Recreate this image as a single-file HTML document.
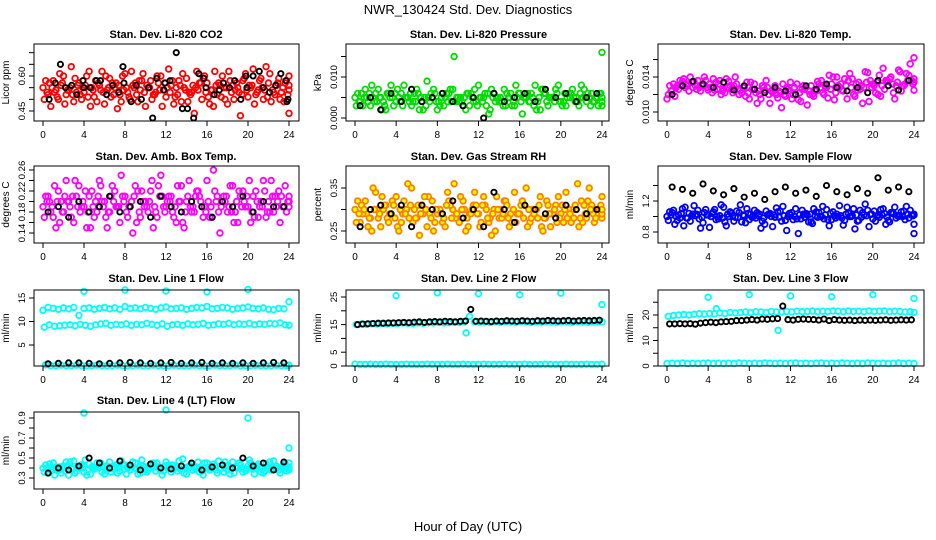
<!DOCTYPE html>
<html><head><meta charset="utf-8">
<style>
html,body{margin:0;padding:0;background:#fff;}
svg{display:block;font-family:"Liberation Sans",Arial,sans-serif;}
</style></head>
<body>
<svg id="chart" width="936" height="540" viewBox="0 0 936 540" xmlns="http://www.w3.org/2000/svg">
<rect width="936" height="540" fill="#fff"/>
<text x="468" y="14" font-size="13" text-anchor="middle">NWR_130424  Std. Dev. Diagnostics</text>
<text x="468" y="531" font-size="13" text-anchor="middle">Hour of Day (UTC)</text>
</svg>
<script>
// ---- data ----
const xTickLabels = [0,4,8,12,16,20,24];
// P1 CO2
const co2A=[.55,.52,.58,.50,.60,.54,.49,.57,.53,.62,.51,.56,.48,.59,.55,.52,.61,.50,.57,.54,.47,.58,.53,.60,.51,.56,.55,.49,.59,.53,.62,.50,.57,.54,.52,.60,.48,.56,.55,.58,.51,.63,.54,.50,.57,.53,.59,.49,.56];
const co2B=[.50,.57,.53,.61,.48,.55,.59,.52,.56,.47,.58,.54,.60,.51,.57,.49,.55,.62,.52,.58,.56,.50,.60,.47,.55,.58,.52,.61,.49,.56,.54,.59,.51,.47,.57,.55,.62,.50,.53,.59,.56,.48,.58,.54,.61,.52,.50,.57,.60];
const co2C=[.58,.47,.54,.56,.52,.64,.53,.50,.60,.55,.49,.62,.54,.57,.46,.60,.53,.56,.49,.61,.55,.52,.57,.54,.63,.48,.58,.55,.53,.44,.57,.60,.48,.62,.56,.50,.58,.54,.43,.61,.55,.52,.59,.64,.49,.56,.53,.58,.44];
const co2D=[.53,.55,.51,.57,.54,.52,.56,.55,.51,.54,.57,.53,.55,.52,.56,.54,.51,.55,.58,.53,.55,.52,.54,.57,.53,.51,.56,.54,.52,.55,.57,.53,.54,.56,.51,.55,.53,.57,.52,.54,.56,.53,.55,.51,.54,.57,.55,.52,.54];
const co2BlackHour=[0.6,1.2,1.7,2.2,2.8,3.3,3.9,4.0,4.6,5.2,5.6,6.2,6.8,7.4,7.8,7.9,8.6,9.1,9.6,10.3,10.7,11.1,11.8,11.9,12.4,13.0,13.6,14.1,14.7,15.2,15.7,15.9,16.7,17.2,17.6,18.2,18.7,19.3,19.8,19.9,20.5,21.1,21.5,22.1,22.7,23.2,23.7,23.8,23.9];
const co2Black=[.50,.57,.65,.55,.56,.52,.58,.55,.55,.58,.58,.52,.56,.53,.64,.57,.49,.56,.50,.55,.42,.59,.54,.57,.58,.70,.46,.46,.42,.61,.59,.55,.52,.54,.57,.55,.58,.50,.60,.55,.60,.62,.55,.53,.56,.61,.58,.49,.50];
// P2 pressure (x1e-3 kPa)
const presA=[5,4,7,3,6,5,2,8,4,6,5,3,7,4,9,5,2,6,4,7,5,3,6,4,8,5,1,6,4,7,5,3,6,5,4,8,2,6,5,7,4,3,6,5,8,4,6,5,3];
const presB=[3,6,5,8,4,2,6,5,7,3,5,4,6,2,5,7,4,3,6,15,4,5,3,7,5,6,2,4,5,3,6,8,4,5,6,2,7,4,5,6,3,5,7,4,5,6,4,3,16];
const presC=[6,3,4,5,7,4,6,3,5,8,4,6,2,5,4,6,3,5,7,4,5,2,6,4,5,3,7,5,4,6,3,5,1,6,5,4,7,3,5,8,4,6,5,3,7,5,4,6,5];
const presD=[4,5,6,4,5,3,5,6,4,5,6,4,5,3,6,4,5,6,4,5,4,6,5,3,4,6,5,5,3,5,4,6,5,4,3,5,6,5,4,4,6,5,4,6,5,3,5,6,4];
const presBlack=[3,5,2,6,4,7,4,5,6,4,3,5,0,6,4,5,6,4,7,5,6,4,5,6];
// P3 Li-820 temp (x1e-3)
const tempA=[11.5,12.5,13.0,13.5,13.2,12.8,13.6,13.0,12.5,13.8,13.2,12.6,13.5,13.0,12.0,12.8,11.5,13.2,12.0,12.5,11.0,13.0,12.2,11.8,13.4,12.0,11.2,12.8,13.0,12.4,13.6,12.8,13.2,14.0,12.5,11.5,13.8,12.5,11.0,14.5,13.2,12.0,15.0,13.5,12.2,14.8,13.0,14.2,12.5];
const tempB=[12.0,13.2,12.6,13.8,12.4,13.5,12.8,14.0,13.2,12.5,13.6,12.2,13.0,14.0,12.5,11.8,13.4,12.2,11.5,13.6,12.4,12.0,10.5,12.8,11.5,13.2,12.6,10.8,12.0,13.5,12.2,11.6,14.0,13.0,12.4,13.6,12.0,13.4,12.8,11.2,13.0,14.2,12.6,13.8,11.5,14.6,13.2,15.5,13.8];
const tempC=[13.0,11.8,13.6,12.8,14.0,13.0,12.4,13.6,12.8,13.4,12.0,13.8,12.6,13.2,12.2,13.4,12.6,11.0,13.0,12.8,12.2,11.6,13.2,12.6,12.0,11.4,13.0,12.4,11.8,13.2,12.0,14.2,11.4,12.8,13.8,14.4,11.8,12.6,14.6,13.6,12.2,11.8,13.6,14.0,13.0,12.4,14.4,13.6,16.2];
const tempD=[12.4,12.8,13.2,13.0,13.4,12.6,13.0,12.8,12.2,12.6,12.4,12.8,12.2,12.6,12.8,12.2,12.6,12.4,12.8,12.0,12.6,12.4,12.0,12.4,12.8,12.2,12.6,12.0,12.4,12.8,13.0,12.6,12.2,13.2,13.0,12.8,13.2,13.0,13.4,12.8,13.4,13.0,13.6,13.2,13.4,13.0,13.6,13.2,13.4];
const tempBlack=[12.0,13.0,13.5,13.2,12.8,13.4,12.5,13.0,12.6,12.2,12.8,12.4,12.0,13.0,12.6,13.2,12.8,12.4,12.8,12.2,13.6,13.0,12.5,13.6];
// P4 amb box temp
const boxA=[.19,.21,.17,.22,.18,.20,.16,.23,.19,.21,.17,.24,.20,.18,.22,.16,.21,.19,.23,.17,.20,.22,.18,.25,.19,.21,.16,.23,.20,.18,.22,.19,.24,.17,.21,.20,.18,.23,.16,.22,.19,.21,.17,.24,.20,.18,.22,.19,.21];
const boxB=[.17,.20,.23,.16,.21,.19,.24,.18,.22,.15,.20,.23,.17,.21,.19,.25,.18,.20,.16,.22,.19,.24,.17,.21,.20,.18,.23,.16,.21,.19,.22,.17,.20,.26,.18,.21,.19,.16,.22,.20,.24,.17,.19,.22,.18,.21,.16,.23,.20];
const boxC=[.21,.18,.15,.20,.24,.17,.21,.19,.15,.22,.18,.20,.15,.23,.19,.21,.17,.14,.22,.20,.18,.15,.23,.19,.21,.17,.20,.15,.24,.18,.21,.19,.17,.22,.14,.20,.23,.18,.21,.19,.16,.22,.20,.17,.24,.19,.21,.18,.20];
const boxD=[.20,.19,.20,.18,.20,.21,.19,.20,.18,.19,.21,.19,.18,.20,.19,.20,.19,.21,.18,.19,.20,.19,.21,.18,.20,.19,.20,.18,.19,.21,.20,.18,.19,.20,.19,.21,.18,.20,.19,.21,.18,.20,.19,.18,.21,.20,.19,.20,.19];
const boxBlack=[.18,.19,.17,.20,.18,.19,.21,.18,.19,.20,.17,.21,.19,.18,.20,.19,.17,.20,.19,.21,.18,.20,.19,.19];
// P5 RH
const rhA=[.30,.27,.32,.28,.34,.26,.31,.29,.33,.27,.30,.35,.28,.31,.26,.32,.29,.27,.34,.30,.28,.32,.26,.31,.29,.33,.27,.30,.28,.32,.26,.34,.29,.31,.27,.30,.33,.28,.26,.31,.29,.34,.27,.30,.32,.28,.31,.29,.33];
const rhB=[.27,.31,.29,.25,.30,.33,.28,.32,.26,.29,.36,.27,.31,.29,.33,.25,.30,.28,.32,.36,.27,.30,.29,.34,.26,.31,.28,.25,.30,.32,.29,.27,.31,.35,.28,.30,.26,.32,.29,.27,.31,.28,.30,.36,.27,.32,.29,.30,.28];
const rhC=[.32,.29,.26,.35,.28,.30,.27,.31,.25,.32,.28,.30,.24,.33,.29,.27,.30,.26,.31,.28,.33,.25,.29,.31,.27,.30,.24,.33,.28,.31,.27,.29,.32,.26,.30,.28,.25,.31,.29,.33,.27,.30,.28,.26,.31,.35,.27,.30,.29];
const rhD=[.29,.30,.28,.30,.29,.31,.29,.28,.30,.29,.31,.28,.29,.30,.28,.30,.29,.31,.28,.29,.30,.28,.30,.29,.31,.28,.29,.30,.29,.28,.30,.29,.28,.30,.29,.31,.28,.29,.30,.28,.30,.29,.31,.28,.29,.30,.28,.31,.30];
const rhBlack=[.26,.30,.31,.29,.31,.26,.31,.30,.29,.32,.28,.30,.26,.34,.30,.27,.31,.30,.29,.28,.31,.30,.29,.30];
// P6 sample flow
const sfA=[1.00,1.05,0.95,1.10,0.98,1.03,1.08,0.92,1.02,1.06,0.97,1.12,1.00,0.94,1.05,1.01,0.96,1.08,1.03,0.90,1.04,0.99,1.07,0.95,1.02,1.10,0.97,1.04,0.93,1.06,1.00,1.09,0.96,1.03,0.98,1.12,1.01,0.94,1.05,1.08,0.97,1.02,1.10,0.95,1.04,1.00,1.07,0.98,1.03];
const sfB=[0.95,1.08,1.02,0.88,1.04,1.14,0.97,1.05,0.86,1.09,1.01,0.93,1.06,0.99,1.15,0.92,1.03,0.98,0.85,1.07,1.00,1.11,0.94,0.82,1.05,0.97,1.08,1.02,0.91,0.99,1.13,0.96,1.06,1.00,0.89,1.04,1.10,0.95,1.02,0.87,1.07,0.99,1.04,0.93,1.12,1.01,0.96,1.08,0.90];
const sfC=[1.06,0.90,0.98,1.12,0.94,1.01,0.85,1.09,1.00,0.96,1.15,0.88,1.04,1.07,0.93,1.10,0.99,1.05,0.94,1.02,0.87,1.06,1.13,1.00,0.96,0.78,1.03,0.93,1.10,1.05,0.97,0.88,1.01,1.14,0.95,1.00,0.84,1.08,1.16,1.03,0.94,1.09,0.90,1.05,0.98,1.06,1.13,1.02,0.78];
const sfD=[1.02,1.00,1.04,0.98,1.01,1.03,0.99,1.02,1.04,1.00,0.98,1.03,1.01,0.99,1.02,1.04,1.00,1.01,0.98,1.03,1.02,0.99,1.01,1.04,1.00,1.02,0.99,1.03,1.01,1.00,1.02,1.04,0.98,1.01,1.03,1.00,1.02,0.99,1.01,1.03,1.00,1.02,0.99,1.04,1.01,1.00,1.03,1.01,1.02];
const sfBlack=[1.38,1.35,1.30,1.42,1.33,1.28,1.36,1.25,1.30,1.22,1.32,1.38,1.30,1.34,1.26,1.40,1.32,1.28,1.36,1.30,1.50,1.34,1.38,1.32];
// P7 line 1
const l1Upper=[12.4,13.0,12.8,12.6,12.9,12.7,13.0,11.3,12.8,12.9,12.6,12.8,13.0,12.7,12.9,12.6,13.2,12.8,12.9,12.7,13.0,12.8,12.6,12.9,13.1,12.7,12.8,12.9,12.6,12.8,13.0,12.9,13.2,12.7,12.8,13.0,12.9,12.6,12.8,12.9,13.1,12.8,12.7,12.9,12.6,12.5,12.8,12.7,14.2];
const l1Lower=[8.8,9.3,9.0,9.1,9.2,9.3,9.1,9.4,9.2,9.0,9.3,9.5,9.6,9.2,9.4,9.3,9.5,9.2,9.4,9.3,9.6,9.4,9.2,9.5,9.0,9.3,9.4,9.2,9.5,9.3,9.4,9.6,9.2,9.3,9.5,9.4,9.6,9.3,9.5,9.4,9.6,9.3,9.5,9.4,9.6,9.5,9.7,9.3,9.2];
const l1Base=[0.8,0.6,0.6,0.7,0.6,0.6,0.7,0.6,0.6,0.6,0.7,0.6,0.6,0.6,0.7,0.6,0.6,0.6,0.7,0.6,0.6,0.7,0.6,0.6,0.6,0.7,0.6,0.6,0.6,0.7,0.6,0.6,0.6,0.7,0.6,0.6,0.6,0.7,0.6,0.6,0.6,0.7,0.6,0.6,0.6,0.7,0.6,0.6,0.7];
const l1Black=[1.0,1.1,1.2,1.2,1.1,1.0,1.1,1.2,1.3,1.2,1.1,1.2,1.3,1.1,1.2,1.3,1.1,1.2,1.1,1.2,1.1,1.2,1.3,1.2];
const l1SpikeHour=[4,8,12,16,20];
const l1Spike=[16.4,16.7,16.5,16.3,16.8];
// P8 line 2
const l2Band=[15.0,15.2,15.1,15.3,15.2,15.4,15.3,15.5,15.4,15.6,15.5,15.4,15.6,15.5,15.7,15.6,15.8,15.6,15.7,15.9,15.8,16.0,18.0,16.0,15.9,16.0,15.8,16.0,15.9,16.1,16.0,15.9,16.1,16.0,15.8,16.0,15.9,16.1,16.0,15.9,16.1,16.0,15.9,16.1,16.0,15.9,16.0,16.1,16.0];
const l2Black=[15.0,15.2,15.3,15.4,15.5,15.5,15.6,15.6,15.7,15.8,15.7,15.9,16.0,15.8,16.0,16.1,16.0,16.2,16.1,16.0,16.2,16.3,20.5,16.2,16.3,16.2,16.1,16.3,16.2,16.4,16.3,16.2,16.4,16.3,16.2,16.4,16.3,16.5,16.4,16.3,16.4,16.5,16.3,16.4,16.5,16.4,16.5,16.6];
const l2Base=l1Base.map(v=>v*0.9);
const l2SpikeHour=[4,8,10.8,12,16,20,24];
const l2Spike=[25.5,26.5,12.0,26.2,25.8,26.4,22.3];
// P9 line 3
const l3Upper=[19.5,19.8,20.0,20.2,20.0,20.3,20.5,20.4,20.6,20.5,20.8,20.6,21.0,20.8,21.0,21.2,21.0,21.3,21.2,21.0,21.4,21.2,21.2,21.4,21.2,21.5,21.3,21.4,21.6,21.3,21.5,21.4,21.6,21.5,21.3,21.6,21.4,21.5,21.3,21.6,21.4,21.5,21.6,21.3,21.5,21.4,21.2,21.3,21.0];
const l3Black=[16.5,16.5,16.6,16.5,16.6,16.4,16.8,17.0,17.2,17.0,17.3,17.4,17.5,17.8,17.8,18.0,18.2,18.0,18.4,18.3,18.5,18.6,23.5,18.2,18.0,18.3,18.4,18.3,18.2,18.0,18.4,17.8,18.2,18.0,17.9,18.0,17.8,18.0,17.9,18.0,17.9,18.0,18.1,17.9,18.0,18.1,18.0,18.1];
const l3Base=[1.0,1.1,1.0,1.2,1.0,1.1,1.0,1.1,1.2,1.0,1.1,1.0,1.1,1.0,1.2,1.1,1.0,1.1,1.0,1.2,1.1,1.0,1.1,1.0,1.1,1.2,1.0,1.1,1.0,1.1,1.2,1.0,1.1,1.0,1.2,1.1,1.0,1.1,1.0,1.2,1.1,1.0,1.1,1.0,1.1,1.2,1.0,1.1,1.0];
const l3SpikeHour=[4,4.8,8,10.8,12,16,20,24];
const l3Spike=[27.0,22.5,28.0,14.0,27.5,27.2,28.0,26.5];
// P10 line 4
const l4A=[.40,.35,.45,.38,.42,.33,.47,.40,.36,.44,.39,.42,.34,.46,.41,.37,.43,.38,.45,.35,.41,.44,.37,.40,.46,.36,.42,.39,.34,.44,.40,.37,.45,.41,.35,.43,.38,.46,.40,.36,.42,.39,.44,.35,.41,.47,.38,.43,.40];
const l4B=[.36,.44,.33,.41,.37,.46,.35,.42,.48,.34,.40,.45,.38,.36,.43,.47,.34,.41,.39,.48,.36,.42,.45,.33,.40,.43,.37,.49,.41,.38,.46,.33,.40,.44,.47,.36,.42,.35,.45,.39,.48,.34,.41,.37,.46,.40,.35,.44,.38];
const l4C=[.43,.38,.41,.35,.46,.40,.37,.43,.33,.41,.45,.36,.42,.39,.35,.44,.40,.46,.34,.42,.38,.45,.41,.37,.43,.39,.47,.35,.42,.40,.36,.45,.38,.42,.39,.46,.34,.41,.43,.37,.45,.40,.36,.44,.38,.42,.40,.37,.45];
const l4D=[.40,.41,.39,.40,.42,.39,.41,.40,.38,.41,.40,.42,.39,.40,.41,.39,.42,.40,.41,.38,.40,.41,.39,.42,.40,.41,.39,.40,.42,.41,.39,.40,.41,.38,.40,.42,.39,.41,.40,.39,.41,.42,.40,.39,.41,.40,.42,.39,.41];
const l4Black=[.35,.40,.38,.42,.50,.45,.40,.47,.43,.38,.44,.40,.39,.42,.45,.38,.41,.43,.40,.50,.42,.45,.38,.46];
const l4SpikeHour=[4,12,20,24];
const l4Spike=[.95,.98,.90,.60];

// ---- layout ----
const colAxisX=[34,346,658], colRight=[299,609,924], colX0=[43,355,667], colX24=[289,602,914];
const rowTop=[44,166,290,412], rowBottom=[121,243,366,489], rowTitle=[38,160,282,404];
const svg=document.getElementById('chart');
const NS='http://www.w3.org/2000/svg';
function mk(tag,attrs,parent){const e=document.createElementNS(NS,tag);for(const k in attrs)e.setAttribute(k,attrs[k]);(parent||svg).appendChild(e);return e;}

const RED='#ff0000',GRN='#00dd00',MAG='#ff00ff',ORG='#ff8000',BLU='#0000ff',CYN='#00ffff';
const panels=[
 {name:'co2',title:'Stan. Dev. Li-820 CO2',ylab:'Licor ppm',col:0,row:0,scale:1,v0:.45,p0:111,v1:.60,p1:76,ticks:[.45,.50,.55,.60,.65,.70],labels:['0.45','0.60'],
  series:[[co2A,RED],[co2B,RED],[co2C,RED],[co2D,RED]],black:[[co2BlackHour,co2Black]]},
 {name:'pressure',title:'Stan. Dev. Li-820 Pressure',ylab:'kPa',col:1,row:0,scale:1e-3,v0:0,p0:118,v1:.010,p1:77,ticks:[0,.005,.010,.015],labels:['0.000','0.010'],
  series:[[presA,GRN],[presB,GRN],[presC,GRN],[presD,GRN]],black:[[null,presBlack]]},
 {name:'li820-temp',title:'Stan. Dev. Li-820 Temp.',ylab:'degrees C',col:2,row:0,scale:1e-3,v0:.010,p0:112,v1:.014,p1:77,ticks:[.010,.012,.014,.016],labels:['0.010','0.014'],
  series:[[tempA,MAG],[tempB,MAG],[tempC,MAG],[tempD,MAG]],black:[[null,tempBlack]]},
 {name:'box-temp',title:'Stan. Dev. Amb. Box Temp.',ylab:'degrees C',col:0,row:1,scale:1,v0:.14,p0:233,v1:.26,p1:170,ticks:[.14,.16,.18,.20,.22,.24,.26],labels:['0.14','0.18','0.22','0.26'],
  series:[[boxA,MAG],[boxB,MAG],[boxC,MAG],[boxD,MAG]],black:[[null,boxBlack]]},
 {name:'rh',title:'Stan. Dev. Gas Stream RH',ylab:'percent',col:1,row:1,scale:1,v0:.25,p0:231,v1:.35,p1:188,ticks:[.25,.30,.35],labels:['0.25','0.35'],
  series:[[rhA,ORG,'#ffff00'],[rhB,ORG,'#ffff00'],[rhC,ORG,'#ffff00'],[rhD,ORG,'#ffff00']],black:[[null,rhBlack]]},
 {name:'sample-flow',title:'Stan. Dev. Sample Flow',ylab:'ml/min',col:2,row:1,scale:1,v0:.8,p0:232,v1:1.2,p1:201,ticks:[.8,1.0,1.2,1.4],labels:['0.8','1.2'],
  series:[[sfA,BLU],[sfB,BLU],[sfC,BLU],[sfD,BLU]],black:[[null,sfBlack]]},
 {name:'line1-flow',title:'Stan. Dev. Line 1 Flow',ylab:'ml/min',col:0,row:2,scale:1,v0:5,p0:345,v1:15,p1:298,ticks:[5,10,15],labels:['5','10','15'],
  series:[[l1Upper,CYN],[l1Lower,CYN],[l1Base,CYN],[l1Spike,CYN,null,l1SpikeHour]],black:[[null,l1Black]]},
 {name:'line2-flow',title:'Stan. Dev. Line 2 Flow',ylab:'ml/min',col:1,row:2,scale:1,v0:0,p0:366,v1:25,p1:297,ticks:[0,5,10,15,20,25],labels:['0','5','15','25'],
  series:[[l2Base,CYN],[l2Band,CYN],[l2Spike,CYN,null,l2SpikeHour]],black:[[null,l2Black]]},
 {name:'line3-flow',title:'Stan. Dev. Line 3 Flow',ylab:'ml/min',col:2,row:2,scale:1,v0:0,p0:366,v1:20,p1:315,ticks:[0,5,10,15,20,25],labels:['0','10','20'],
  series:[[l3Base,CYN],[l3Upper,CYN],[l3Spike,CYN,null,l3SpikeHour]],black:[[null,l3Black]]},
 {name:'line4-flow',title:'Stan. Dev. Line 4 (LT) Flow',ylab:'ml/min',col:0,row:3,scale:1,v0:.3,p0:478,v1:.9,p1:418,ticks:[.3,.4,.5,.6,.7,.8,.9],labels:['0.3','0.5','0.7','0.9'],
  series:[[l4A,CYN],[l4B,CYN],[l4C,CYN],[l4D,CYN],[l4Spike,CYN,null,l4SpikeHour]],black:[[null,l4Black]]}
];

panels.forEach(p=>{
  const g=mk('g',{});
  
  
  const ax=colAxisX[p.col], x0=colX0[p.col], x24=colX24[p.col], yb=rowBottom[p.row], yt=rowTop[p.row];
  const X=h=>x0+(x24-x0)*h/24;
  const Y=v=>p.p0+(p.p1-p.p0)*(v-p.v0)/(p.v1-p.v0);
  const t=mk('text',{x:X(12),y:rowTitle[p.row],'font-size':11,'font-weight':'bold','text-anchor':'middle'},g);
  t.textContent=p.title;
  
  
  // colored series
  p.series.forEach((s,k)=>{
    const vals=s[0], col=s[1], fill=s[2]||'none', hrs=s[3];
    const sg=mk('g',{stroke:col,fill:fill,'stroke-width':1.8},g);
    
    
    vals.forEach((v,i)=>{
      let h;
      if(Array.isArray(hrs)) h=hrs[i];
      else h=Math.min(24,i*0.5+k*0.13);
      const c=mk('circle',{cx:X(h),cy:Y(v*p.scale),r:2.8},sg);
      
      
    });
  });
  // black series
  p.black.forEach(b=>{
    const hrs=b[0], vals=b[1];
    const bg=mk('g',{stroke:'#000',fill:'none','stroke-width':1.9},g);
    
    
    const step=24/vals.length;
    vals.forEach((v,i)=>{
      const h=hrs?hrs[i]:(i+0.5)*step;
      const c=mk('circle',{cx:X(h),cy:Y(v*p.scale),r:2.6},bg);
      
      
    });
  });
  // box
  const bx=mk('rect',{x:ax,y:yt,width:colRight[p.col]-ax,height:yb-yt,fill:'none',stroke:'#000','stroke-width':1},g);
  
  
  // x axis
  const xa=mk('g',{stroke:'#000','stroke-width':1},g);
  
  
  xTickLabels.forEach(h=>{
    mk('line',{x1:X(h),x2:X(h),y1:yb,y2:yb+5},xa);
    const tl=mk('text',{x:X(h),y:yb+17,'font-size':10,'text-anchor':'middle',stroke:'none'},xa);
    tl.textContent=h;
    
    
  });
  // y axis
  const ya=mk('g',{stroke:'#000','stroke-width':1},g);
  
  
  p.ticks.forEach(v=>{const yy=Y(v); if(yy>=yt-1&&yy<=yb+1) mk('line',{x1:ax-5,x2:ax,y1:yy,y2:yy},ya);});
  p.labels.forEach(l=>{
    const yy=Y(parseFloat(l));
    const tl=mk('text',{x:ax-9,y:yy,'font-size':9.5,'text-anchor':'middle',stroke:'none',transform:`rotate(-90 ${ax-9} ${yy})`},ya);
    tl.textContent=l;
    
    
  });
  const ym=(yt+yb)/2;
  const yl=mk('text',{x:ax-25,y:ym,'font-size':10,'text-anchor':'middle',transform:`rotate(-90 ${ax-25} ${ym})`},g);
  yl.textContent=p.ylab;
  
  
});
</script>
</body></html>
